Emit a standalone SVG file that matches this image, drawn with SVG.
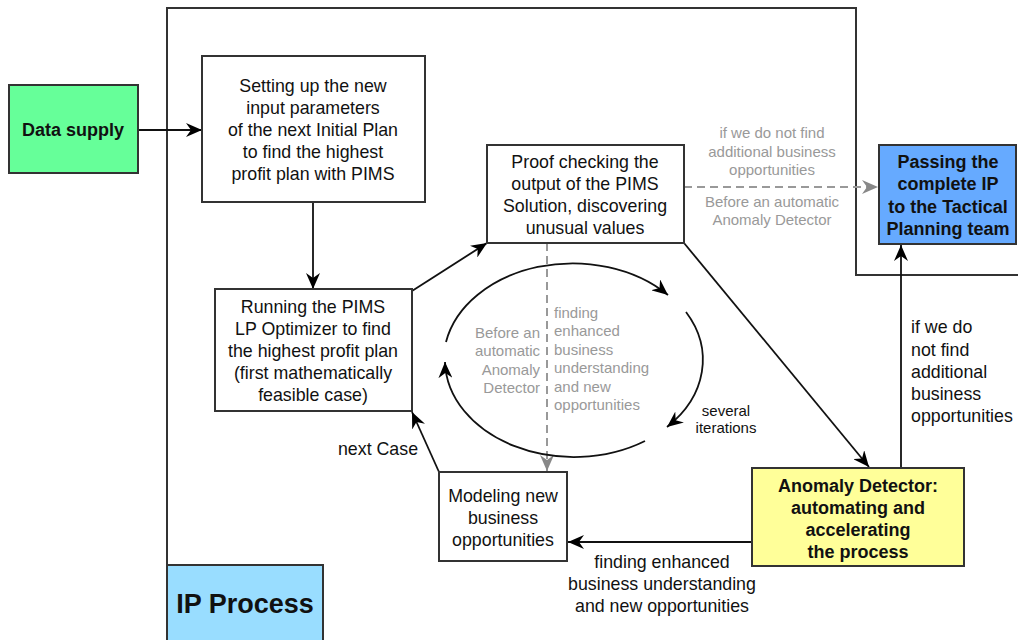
<svg xmlns="http://www.w3.org/2000/svg" width="1018" height="640" viewBox="0 0 1018 640">
<style>
text{font-family:"Liberation Sans",Arial,sans-serif;fill:#111;font-size:17.8px;text-anchor:middle}
.b{font-weight:bold;font-size:18px}
.g{fill:#999;font-size:15px}
.s{font-size:15px}
.l{text-anchor:start}
.r{text-anchor:end}
.box{stroke:#333;stroke-width:2}
.c{stroke:#111;stroke-width:1.8;fill:none;marker-end:url(#ah)}
.d{stroke:#999;stroke-width:2;fill:none;stroke-dasharray:8 5;marker-end:url(#ag)}
</style>
<defs>
<marker id="ah" markerUnits="userSpaceOnUse" markerWidth="17" markerHeight="14" refX="16" refY="7" orient="auto"><path d="M0,0 L16,7 L0,14 L5,7 z" fill="#000"/></marker>
<marker id="ag" markerUnits="userSpaceOnUse" markerWidth="17" markerHeight="14" refX="16" refY="7" orient="auto"><path d="M0,0 L16,7 L0,14 L5,7 z" fill="#888"/></marker>
</defs>
<rect width="1018" height="640" fill="#fff"/>
<g id="frame"><path d="M167,640 L167,8 L856,8 L856,275 L1018,275" fill="none" stroke="#333" stroke-width="2"/></g>
<g id="connectors">
<line class="c" x1="138" y1="130" x2="202" y2="130"/>
<line class="c" x1="313" y1="202" x2="313" y2="289"/>
<line class="c" x1="412" y1="291" x2="487" y2="243"/>
<line class="c" x1="684" y1="243" x2="869" y2="467"/>
<line class="c" x1="901" y1="468" x2="901" y2="245"/>
<line class="c" x1="752" y1="542" x2="568" y2="542"/>
<line class="c" x1="439" y1="472" x2="412" y2="412"/>
<line class="d" x1="684" y1="187" x2="878" y2="187"/>
<line class="d" x1="547" y1="243" x2="547" y2="471"/>
<path class="c" d="M446,342 A129,97 0 0 1 668,295"/>
<path class="c" d="M686,312 A129,97 0 0 1 667,427"/>
<path class="c" d="M645,441 A129,97 0 0 1 445,362"/>
</g>
<g id="labels">
<text class="g" x="772" y="138">if we do not find</text>
<text class="g" x="772" y="157">additional business</text>
<text class="g" x="772" y="175">opportunities</text>
<text class="g" x="772" y="207">Before an automatic</text>
<text class="g" x="772" y="225">Anomaly Detector</text>
<text class="g r" x="540" y="338">Before an</text>
<text class="g r" x="540" y="356">automatic</text>
<text class="g r" x="540" y="375">Anomaly</text>
<text class="g r" x="540" y="393">Detector</text>
<text class="g l" x="554" y="318">finding</text>
<text class="g l" x="554" y="336">enhanced</text>
<text class="g l" x="554" y="355">business</text>
<text class="g l" x="554" y="373">understanding</text>
<text class="g l" x="554" y="392">and new</text>
<text class="g l" x="554" y="410">opportunities</text>
<text class="s" x="726" y="416">several</text>
<text class="s" x="726" y="433">iterations</text>
<text x="378" y="455">next Case</text>
<text class="l" x="911" y="333">if we do</text>
<text class="l" x="911" y="356">not find</text>
<text class="l" x="911" y="378">additional</text>
<text class="l" x="911" y="400">business</text>
<text class="l" x="911" y="422">opportunities</text>
<text x="662" y="568">finding enhanced</text>
<text x="662" y="590">business understanding</text>
<text x="662" y="612">and new opportunities</text>
</g>
<g id="data-supply"><rect class="box" x="9" y="85" width="129" height="88" fill="#66FF99"/><text class="b" x="73" y="136">Data supply</text></g>
<g id="setting"><rect class="box" x="202" y="56" width="223" height="146" fill="#fff"/>
<text x="313" y="92">Setting up the new</text><text x="313" y="114">input parameters</text><text x="313" y="136">of the next Initial Plan</text><text x="313" y="158">to find the highest</text><text x="313" y="180">profit plan with PIMS</text></g>
<g id="running"><rect class="box" x="215" y="289" width="197" height="122" fill="#fff"/>
<text x="313" y="313">Running the PIMS</text><text x="313" y="335">LP Optimizer to find</text><text x="313" y="357">the highest profit plan</text><text x="313" y="379">(first mathematically</text><text x="313" y="401">feasible case)</text></g>
<g id="proof"><rect class="box" x="487" y="145" width="197" height="98" fill="#fff"/>
<text x="585" y="168">Proof checking the</text><text x="585" y="190">output of the PIMS</text><text x="585" y="212">Solution, discovering</text><text x="585" y="234">unusual values</text></g>
<g id="modeling"><rect class="box" x="439" y="472" width="128" height="89" fill="#fff"/>
<text x="503" y="502">Modeling new</text><text x="503" y="524">business</text><text x="503" y="546">opportunities</text></g>
<g id="anomaly"><rect class="box" x="752" y="468" width="212" height="98" fill="#FFFF99"/>
<text class="b" x="858" y="492">Anomaly Detector:</text><text class="b" x="858" y="514">automating and</text><text class="b" x="858" y="536">accelerating</text><text class="b" x="858" y="558">the process</text></g>
<g id="passing"><rect class="box" x="879" y="145" width="137" height="99" fill="#66AAFF"/>
<text class="b" x="948" y="168">Passing the</text><text class="b" x="948" y="190">complete IP</text><text class="b" x="948" y="213">to the Tactical</text><text class="b" x="948" y="235">Planning team</text></g>
<g id="ip-process"><rect class="box" x="167" y="565" width="156" height="80" fill="#99DDFF"/><text class="b" x="245" y="613" style="font-size:27px">IP Process</text></g>
</svg>
